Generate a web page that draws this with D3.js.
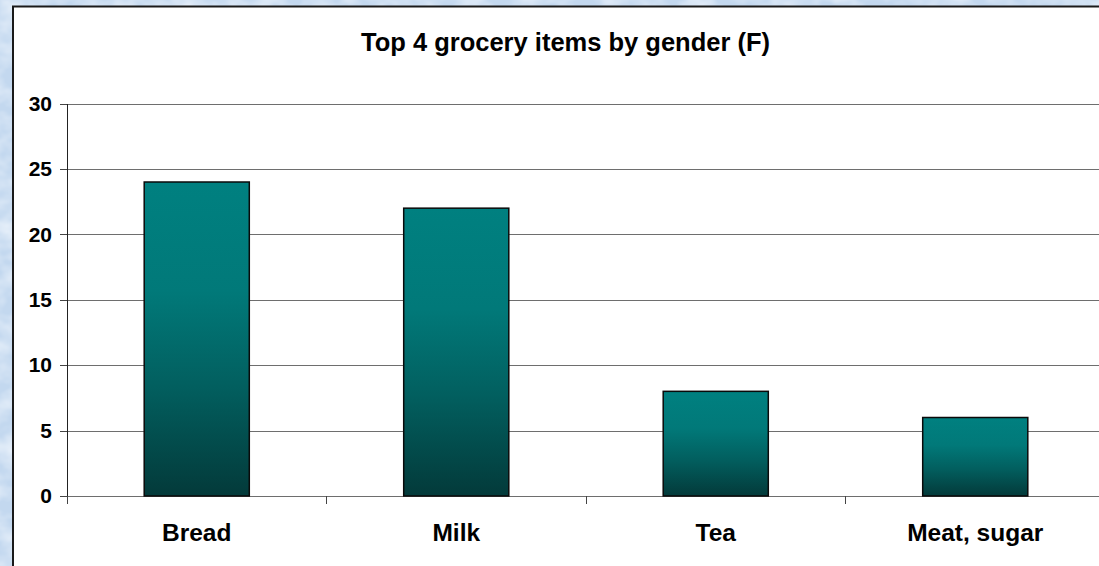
<!DOCTYPE html>
<html>
<head>
<meta charset="utf-8">
<script src="https://cdn.jsdelivr.net/npm/d3@7"></script>
<style>
	html, body { margin: 0; padding: 0; overflow: hidden; background: #c6daf0; }
	#chart { width: 1099px; height: 566px; }
</style>
</head>
<body>
<div id="chart"></div>
<script>
const title_text = "Top 4 grocery items by gender (F)"
const categories = ["Bread", "Milk", "Tea", "Meat, sugar"]
const counts = [24, 22, 8, 6]
const y_ticks = [0, 5, 10, 15, 20, 25, 30]

class GroceryChart {
	constructor(id) {
		this.width = 1099
		this.height = 566
		this.left = 67
		this.right = 1105
		this.top = 103.5
		this.bottom = 496
		this.font = "Liberation Sans, Arial, sans-serif"
		this.container = document.getElementById(id)
	}

	render() {
		this.svg = d3.select(this.container)
			.append("svg")
			.attr("width", this.width)
			.attr("height", this.height)
		this.add_defs()
		this.render_frame()
		this.render_chart()
	}

	add_defs() {
		const defs = this.svg.append("defs")

		// marble-ish blue backdrop
		const f = defs.append("filter").attr("id", "marble")
			.attr("x", 0).attr("y", 0).attr("width", "100%").attr("height", "100%")
		f.append("feTurbulence")
			.attr("type", "fractalNoise")
			.attr("baseFrequency", "0.035 0.05")
			.attr("numOctaves", 3)
			.attr("seed", 4)
		f.append("feColorMatrix")
			.attr("type", "matrix")
			.attr("values", "0 0 0 0 0.93  0 0 0 0 0.96  0 0 0 0 1.0  0 0 0 -1.2 0.8")

		const grad = defs.append("linearGradient")
			.attr("id", "bar_fill")
			.attr("x1", 0).attr("y1", 0).attr("x2", 0).attr("y2", 1)
		const stops = [[0, "#008080"], [0.35, "#017979"], [0.65, "#025f5f"], [1, "#033a3a"]]
		stops.forEach(s => {
			grad.append("stop").attr("offset", s[0]).attr("stop-color", s[1])
		})
	}

	render_frame() {
		this.svg.append("rect")
			.attr("width", this.width).attr("height", this.height)
			.attr("fill", "#c3d8ef")
		this.svg.append("rect")
			.attr("width", this.width).attr("height", this.height)
			.attr("filter", "url(#marble)")
		this.svg.append("rect")
			.attr("x", 13).attr("y", 6.5)
			.attr("width", 1200).attr("height", 700)
			.attr("fill", "white")
			.attr("stroke", "#1a1a1a")
			.attr("stroke-width", 2)

		this.svg.append("text")
			.attr("x", 565.5)
			.attr("y", 51)
			.attr("text-anchor", "middle")
			.attr("font-family", this.font)
			.attr("font-weight", "bold")
			.attr("font-size", 25.5)
			.attr("fill", "black")
			.text(title_text)
	}

	render_chart() {
		const y_scale = d3.scaleLinear()
			.domain([0, 30])
			.range([this.bottom, this.top])

		const x_scale = d3.scaleBand()
			.domain(categories)
			.range([this.left, this.right])
			.padding(0)

		// horizontal gridlines
		const grid = d3.axisLeft(y_scale)
			.tickValues(y_ticks.filter(t => t > 0))
			.tickFormat("")
			.tickSize(-(this.right - this.left))
		this.svg.append("g")
			.attr("transform", `translate(${this.left},0)`)
			.call(grid)
			.call(g => g.select(".domain").remove())
			.call(g => g.selectAll("line").attr("stroke", "#6e6e6e").attr("shape-rendering", "crispEdges"))

		// y axis with labels
		const y_axis = d3.axisLeft(y_scale)
			.tickValues(y_ticks)
			.tickSize(7)
			.tickPadding(8)
		this.svg.append("g")
			.attr("transform", `translate(${this.left},0)`)
			.call(y_axis)
			.call(g => g.select(".domain").attr("stroke", "#222").attr("shape-rendering", "crispEdges"))
			.call(g => g.selectAll("line").attr("stroke", "#444").attr("shape-rendering", "crispEdges"))
			.call(g => g.selectAll("text")
				.attr("font-family", this.font)
				.attr("font-weight", "bold")
				.attr("font-size", 21)
				.attr("fill", "black"))

		// x axis: zero line and boundary ticks
		this.svg.append("line")
			.attr("x1", this.left).attr("x2", this.right)
			.attr("y1", y_scale(0)).attr("y2", y_scale(0))
			.attr("stroke", "#6e6e6e")
			.attr("shape-rendering", "crispEdges")
		const bounds = categories.map(c => x_scale(c)).concat([this.right])
		this.svg.append("g").selectAll("line")
			.data(bounds)
			.join("line")
			.attr("x1", d => d).attr("x2", d => d)
			.attr("y1", y_scale(0)).attr("y2", y_scale(0) + 8)
			.attr("stroke", "#444")
			.attr("shape-rendering", "crispEdges")

		// bars
		const bar_w = x_scale.bandwidth() * 0.405
		this.svg.append("g")
			.selectAll("rect")
			.data(categories)
			.join("rect")
			.attr("x", (d) => x_scale(d) + (x_scale.bandwidth() - bar_w) / 2)
			.attr("y", (d, i) => y_scale(counts[i]))
			.attr("width", bar_w)
			.attr("height", (d, i) => y_scale(0) - y_scale(counts[i]))
			.attr("fill", "url(#bar_fill)")
			.attr("stroke", "#0a0a0a")
			.attr("stroke-width", 1.5)

		// category labels
		this.svg.append("g")
			.selectAll("text")
			.data(categories)
			.join("text")
			.attr("x", d => x_scale(d) + x_scale.bandwidth() / 2)
			.attr("y", 541)
			.attr("text-anchor", "middle")
			.attr("font-family", this.font)
			.attr("font-weight", "bold")
			.attr("font-size", 24.5)
			.attr("fill", "black")
			.text(d => d)
	}
}

new GroceryChart("chart").render()
</script>
</body>
</html>
